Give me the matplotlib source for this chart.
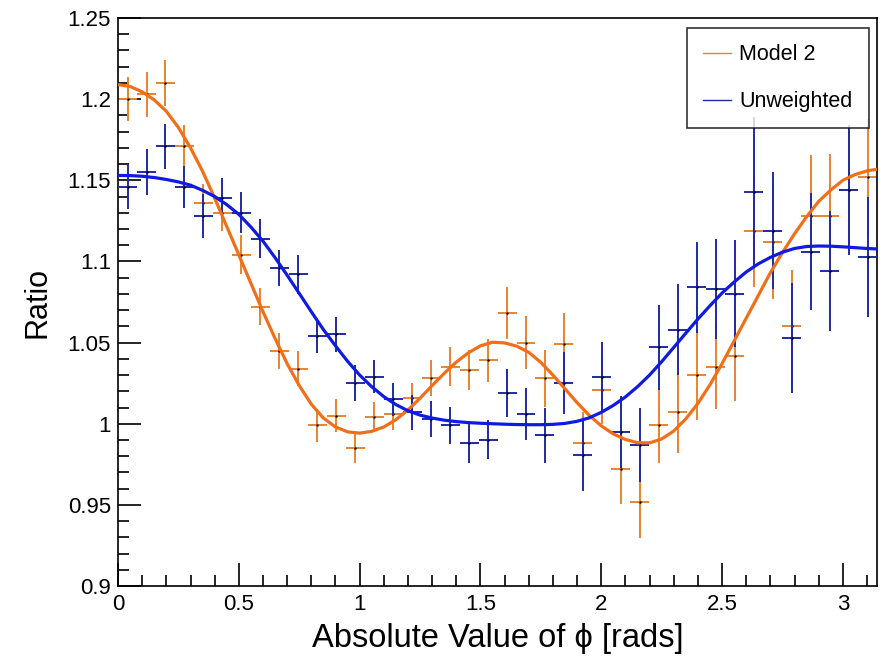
import numpy as np
import matplotlib
matplotlib.use("Agg")
import matplotlib.pyplot as plt
from matplotlib.lines import Line2D
from matplotlib.ticker import MultipleLocator, FuncFormatter

plt.rcParams['font.family'] = ['Liberation Sans', 'DejaVu Sans']

# ---- data ----
n_bins = 40
x_max = np.pi

model2_ratio = [1.200, 1.203, 1.210, 1.171, 1.136, 1.130, 1.104, 1.072, 1.045, 1.034,
                0.999, 1.005, 0.985, 1.004, 1.006, 1.016, 1.028, 1.035, 1.033, 1.039,
                1.068, 1.050, 1.028, 1.049, 0.988, 1.021, 0.972, 0.952, 0.999, 1.007,
                1.030, 1.035, 1.042, 1.119, 1.112, 1.060, 1.128, 1.128, 1.144, 1.152]
model2_err = [0.0135, 0.014, 0.0144, 0.013, 0.012, 0.0115, 0.012, 0.0114, 0.011, 0.011,
              0.0103, 0.010, 0.0093, 0.0093, 0.0096, 0.0093, 0.011, 0.012, 0.0123, 0.013,
              0.016, 0.0165, 0.0175, 0.019, 0.019, 0.021, 0.0216, 0.0226, 0.023, 0.025,
              0.028, 0.026, 0.028, 0.035, 0.035, 0.035, 0.0377, 0.038, 0.038, 0.036]

unweighted_ratio = [1.146, 1.155, 1.171, 1.146, 1.128, 1.139, 1.130, 1.114, 1.096, 1.092,
                    1.054, 1.055, 1.025, 1.029, 1.015, 1.007, 1.003, 0.999, 0.988, 0.990,
                    1.019, 1.006, 0.993, 1.025, 0.981, 1.029, 0.995, 0.987, 1.047, 1.058,
                    1.084, 1.083, 1.080, 1.143, 1.119, 1.053, 1.106, 1.094, 1.144, 1.103]
unweighted_err = [0.0136, 0.014, 0.014, 0.013, 0.0134, 0.0123, 0.0125, 0.012, 0.0113, 0.012,
                  0.0105, 0.011, 0.011, 0.0103, 0.0103, 0.011, 0.011, 0.0115, 0.012, 0.012,
                  0.0146, 0.016, 0.017, 0.019, 0.0226, 0.0216, 0.022, 0.023, 0.026, 0.028,
                  0.028, 0.031, 0.033, 0.046, 0.036, 0.034, 0.036, 0.037, 0.040, 0.037]

# fitted curves, values at knots every 0.05 rad
fit_x = [round(0.05 * k, 2) for k in range(63)] + [3.1416]
model2_fit = [1.209, 1.2078, 1.2045, 1.1995, 1.1925, 1.1825, 1.170, 1.1555, 1.139, 1.1215,
              1.104, 1.0865, 1.069, 1.0525, 1.037, 1.0235, 1.012, 1.0035, 0.998, 0.995,
              0.9942, 0.9953, 0.998, 1.0025, 1.0085, 1.0157, 1.0235, 1.031, 1.038, 1.0437,
              1.048, 1.0502, 1.0498, 1.0478, 1.044, 1.0378, 1.030, 1.0215, 1.013, 1.0052,
              0.9987, 0.9937, 0.9903, 0.9883, 0.9882, 0.9906, 0.9955, 1.003, 1.0125, 1.024,
              1.037, 1.051, 1.065, 1.079, 1.093, 1.1055, 1.117, 1.1275, 1.137, 1.144,
              1.150, 1.1535, 1.1558, 1.1568]
unweighted_fit = [1.153, 1.1529, 1.1525, 1.1517, 1.1505, 1.149, 1.147, 1.1438, 1.140, 1.135,
                  1.129, 1.1212, 1.1125, 1.1023, 1.0915, 1.0803, 1.069, 1.058, 1.048, 1.0385,
                  1.030, 1.0228, 1.0167, 1.0118, 1.008, 1.0053, 1.0035, 1.0022, 1.0013, 1.0007,
                  1.0003, 1.0, 0.9997, 0.9995, 0.9994, 0.9994, 0.9996, 1.0002, 1.0015, 1.0036,
                  1.007, 1.0113, 1.0165, 1.0228, 1.030, 1.0382, 1.047, 1.0558, 1.0645, 1.0727,
                  1.0805, 1.0873, 1.0935, 1.0985, 1.1025, 1.1057, 1.108, 1.1092, 1.1095, 1.1094,
                  1.109, 1.1085, 1.108, 1.1077]

labels = ["Model 2", "Unweighted"]

# ---- plotting ----
orange_pts = '#E5842F'
orange_fit = '#F26F1A'
blue_pts = '#1F2BA3'
blue_fit = '#0F1BE0'

fig = plt.figure(figsize=(8.81, 6.60), dpi=100)
ax = fig.add_axes([0.134, 0.1121, 0.8615, 0.8606])

edges = np.linspace(0, x_max, n_bins + 1)
centers = 0.5 * (edges[:-1] + edges[1:])
half_w = 0.5 * (edges[1] - edges[0])

ax.errorbar(centers, model2_ratio, yerr=model2_err, xerr=half_w, fmt='none',
            ecolor=orange_pts, elinewidth=1.4, capsize=0, zorder=2)
ax.plot(centers, model2_ratio, linestyle='none', marker='.', markersize=1.5,
        color='black', zorder=3)
ax.errorbar(centers, unweighted_ratio, yerr=unweighted_err, xerr=half_w, fmt='none',
            ecolor=blue_pts, elinewidth=1.4, capsize=0, zorder=4)
ax.plot(centers, unweighted_ratio, linestyle='none', marker='.', markersize=1.5,
        color='black', zorder=5)

ax.plot(fit_x, model2_fit, color=orange_fit, linewidth=2.3, zorder=6,
        solid_capstyle='round', solid_joinstyle='round')
ax.plot(fit_x, unweighted_fit, color=blue_fit, linewidth=2.3, zorder=7,
        solid_capstyle='round', solid_joinstyle='round')

ax.set_xlim(0, x_max)
ax.set_ylim(0.9, 1.25)

ax.xaxis.set_major_locator(MultipleLocator(0.5))
ax.xaxis.set_minor_locator(MultipleLocator(0.1))
ax.yaxis.set_major_locator(MultipleLocator(0.05))
ax.yaxis.set_minor_locator(MultipleLocator(0.01))

fmt = FuncFormatter(lambda v, p: ('%.2f' % v).rstrip('0').rstrip('.'))
ax.xaxis.set_major_formatter(fmt)
ax.yaxis.set_major_formatter(fmt)

ax.tick_params(axis='both', which='both', direction='in', top=False, right=False,
               width=1.2, colors='black', labelsize=16)
ax.tick_params(axis='y', which='major', length=16.5, pad=5)
ax.tick_params(axis='y', which='minor', length=8.2)
ax.tick_params(axis='x', which='major', length=16.5, pad=5.5)
ax.tick_params(axis='x', which='minor', length=8.2)
for s in ax.spines.values():
    s.set_linewidth(1.2)

ax.set_xlabel('Absolute Value of ϕ [rads]', fontsize=23.5, labelpad=6)
ax.set_ylabel('Ratio', fontsize=22, labelpad=11)

handles = [Line2D([], [], color=orange_pts, linewidth=1.0),
           Line2D([], [], color=blue_pts, linewidth=1.0)]
leg = ax.legend(handles, labels, loc='upper right', bbox_to_anchor=(0.989, 0.982),
                fontsize=15.5, frameon=True, fancybox=False, edgecolor='black',
                handlelength=1.3, handletextpad=0.4, labelspacing=1.2,
                borderpad=0.75, borderaxespad=0.0)
leg.get_frame().set_linewidth(1.2)
leg.set_zorder(10)

fig.savefig('out.png', dpi=100)
